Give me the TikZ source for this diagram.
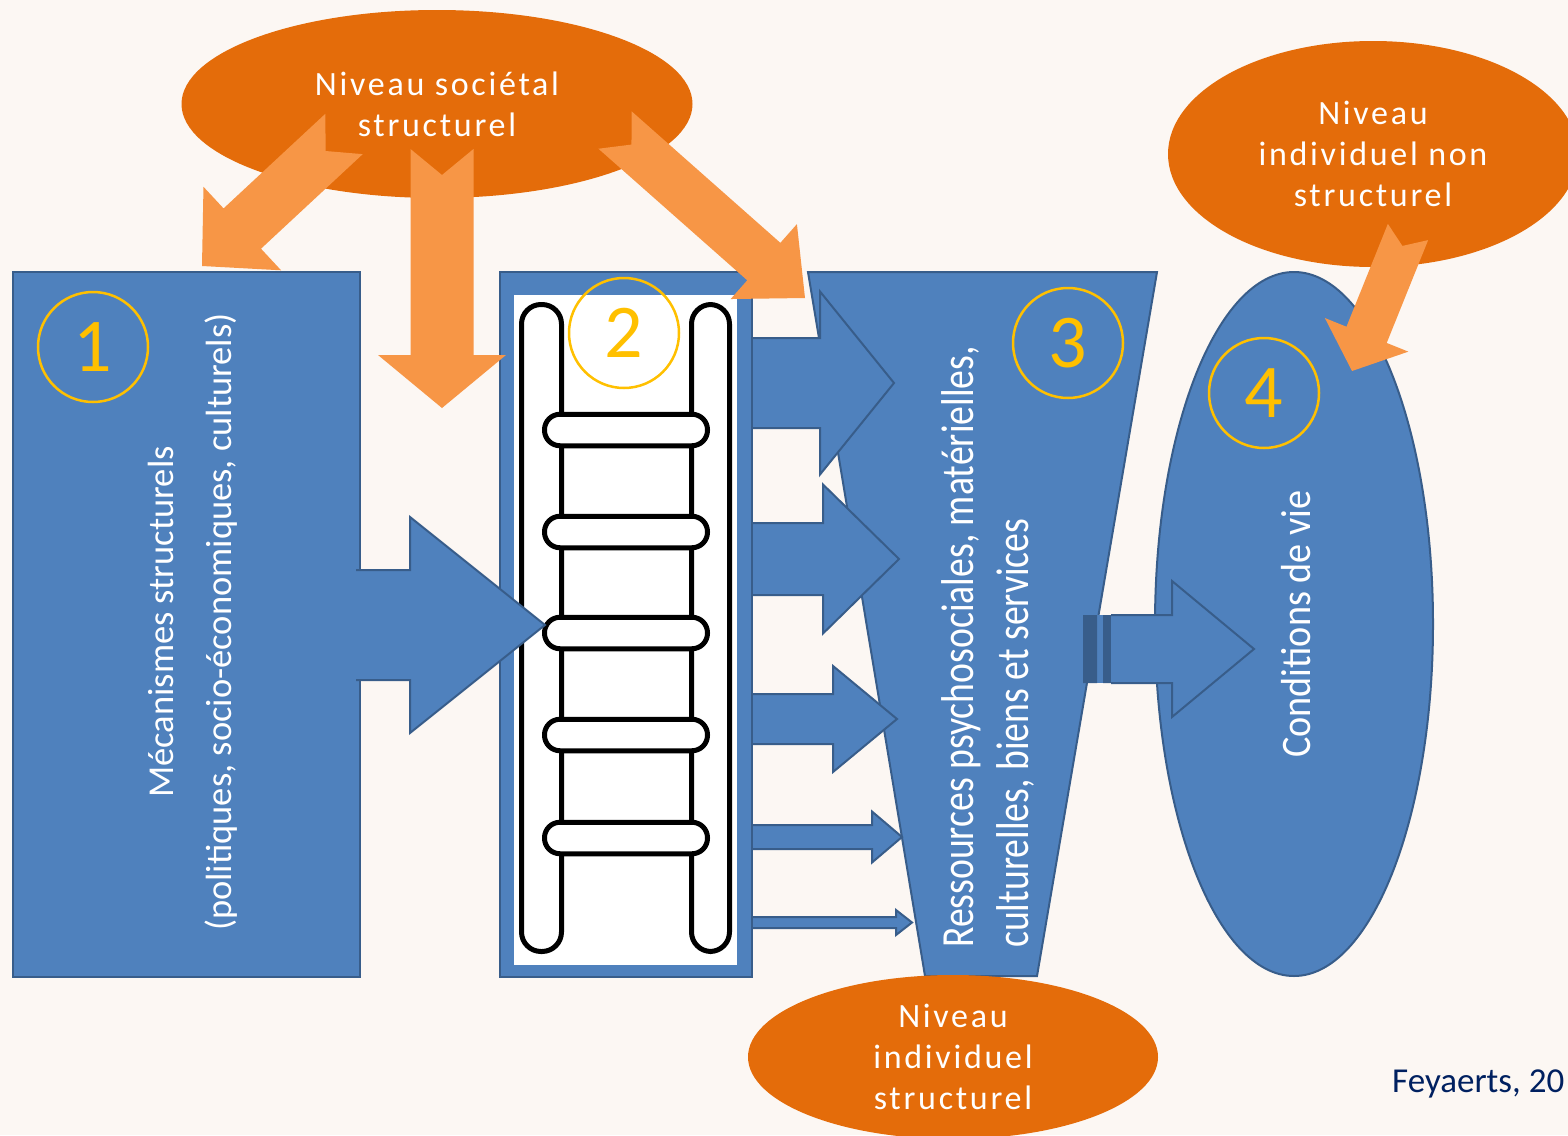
\documentclass[tikz,border=0pt]{standalone}
\usepackage{fontspec}
\setmainfont{Carlito}
\newfontfamily\levelfont{Carlito}[LetterSpace=8]
\newfontfamily\narrowfont{Carlito}[FakeStretch=0.82]
\newfontfamily\condfont{Carlito}[FakeStretch=0.91]
\usetikzlibrary{shapes.geometric,calc,positioning}

\definecolor{fond}{RGB}{252,247,243}
\definecolor{bleu}{RGB}{79,129,189}
\definecolor{bleufonce}{RGB}{56,93,138}
\definecolor{orangefonce}{RGB}{228,108,10}
\definecolor{orangeclair}{RGB}{247,150,70}
\definecolor{jaune}{RGB}{255,192,0}
\definecolor{marine}{RGB}{0,32,96}

\tikzstyle{bluebox}=[draw=bleufonce, fill=bleu, line width=2.5pt]
\tikzstyle{levelell}=[ellipse, fill=orangefonce, text=white, inner sep=0pt, align=center, font=\levelfont\fontsize{34}{41}\selectfont]
\tikzstyle{numcircle}=[circle, draw=jaune, line width=2.5pt, text=jaune, minimum size=110pt, inner sep=0pt, font=\fontsize{76}{76}\selectfont]
\tikzstyle{rail}=[draw=black, fill=white, line width=5pt]
\tikzstyle{vtext}=[text=white, rotate=90, inner sep=0pt]

% tail, tip, shaft half width, head half width, head length
\newcommand{\bluearrow}[5]{%
  \fill[bleu] ($(#1)!#3!90:(#2)$) -- ($(#2)!#5!(#1)!#3!90:(#2)$) -- ($(#2)!#5!(#1)!#4!90:(#2)$) -- (#2)
    -- ($(#2)!#5!(#1)!#4!-90:(#2)$) -- ($(#2)!#5!(#1)!#3!-90:(#2)$) -- ($(#1)!#3!-90:(#2)$) -- cycle;
  \draw[bleufonce, line width=2pt] ($(#1)!#3!90:(#2)$) -- ($(#2)!#5!(#1)!#3!90:(#2)$) -- ($(#2)!#5!(#1)!#4!90:(#2)$) -- (#2)
    -- ($(#2)!#5!(#1)!#4!-90:(#2)$) -- ($(#2)!#5!(#1)!#3!-90:(#2)$) -- ($(#1)!#3!-90:(#2)$);
}
% tail, tip, shaft half width, head half width, head length, notch
\newcommand{\orangearrow}[6]{%
  \fill[orangeclair] ($(#1)!#3!90:(#2)$) -- ($(#2)!#5!(#1)!#3!90:(#2)$) -- ($(#2)!#5!(#1)!#4!90:(#2)$) -- (#2)
    -- ($(#2)!#5!(#1)!#4!-90:(#2)$) -- ($(#2)!#5!(#1)!#3!-90:(#2)$) -- ($(#1)!#3!-90:(#2)$) -- ($(#1)!#6!(#2)$) -- cycle;
}

\begin{document}
\begin{tikzpicture}[x=1pt, y=-1pt]

\fill[fond] (0,0) rectangle (1568,1135);
\useasboundingbox (0,0) rectangle (1568,1135);

\node[bluebox, minimum width=347pt, minimum height=705pt] (meca) at (186.5,624.5) {};
\node[bluebox, minimum width=252pt, minimum height=705pt] (echelle) at (626,624.5) {};
\node[fill=white, minimum width=223pt, minimum height=670pt, inner sep=0pt] (blanc) at (625.5,630) {};

\foreach \x/\wr in {541.5/40, 710.5/38}
  \draw[rail, rounded corners=19.5pt] (\x-\wr/2,304.5) rectangle (\x+\wr/2,951.5);
\foreach \y in {430,532,633,735,838}
  \draw[rail, rounded corners=15.5pt] (544.5,\y-15.75) rectangle (707.5,\y+15.75);

\coordinate (mecaout) at (356,625);
\coordinate (echin) at (545,625);
\bluearrow{mecaout}{echin}{55pt}{108pt}{135pt}

\draw[bluebox, line width=2pt] (808,272) -- (1157,272) -- (1037,976) -- (925,976) -- cycle;

\foreach \yc/\sw/\hw/\hl/\xt [count=\i] in {383/45pt/91.5pt/74pt/894, 559/36pt/74.5pt/76pt/899, 719/25pt/53pt/64pt/897, 837/12pt/25.5pt/30pt/902, 922.5/5.5pt/12.5pt/16pt/912} {
  \coordinate (src\i) at (753,\yc);
  \coordinate (dst\i) at (\xt,\yc);
  \bluearrow{src\i}{dst\i}{\sw}{\hw}{\hl}
}

\node[bluebox, ellipse, line width=2pt, minimum width=278pt, minimum height=704pt, inner sep=0pt] (cond) at (1294,624) {};

\fill[bleu] (1083,615) rectangle (1112,683);
\fill[bleufonce] (1083,615) rectangle (1097,683) (1103,615) rectangle (1112,683);
\coordinate (resout) at (1111,649);
\coordinate (condin) at (1254,649);
\bluearrow{resout}{condin}{34pt}{68pt}{82pt}

\node[numcircle] (n1) at (93,347) {1};
\node[numcircle] (n2) at (624,333) {2};
\node[numcircle] (n3) at (1068,343) {3};
\node[numcircle] (n4) at (1264,393) {4};

\node[vtext, align=center, font=\fontsize{36.5}{58}\selectfont] (mecatext) at (193,622) {Mécanismes structurels\\(politiques, socio-économiques, culturels)};
\node[vtext, align=left, anchor=north west, font=\narrowfont\fontsize{46}{55}\selectfont] (restext) at (941,948) {Ressources psychosociales, matérielles,\\culturelles, biens et services};
\node[vtext, font=\condfont\fontsize{42}{50}\selectfont] (condtext) at (1296,624) {Conditions de vie};

\node[levelell, minimum width=511pt, minimum height=188pt] (soc) at (437,104) {Niveau sociétal\\structurel};
\node[levelell, minimum width=410pt, minimum height=226pt] (indns) at (1373,154) {Niveau\\individuel non\\structurel};
\node[levelell, minimum width=410pt, minimum height=164pt] (indst) at (953,1057) {Niveau\\individuel\\structurel};

\coordinate (soc1) at (344,134);
\coordinate (meca1) at (202,266);
\coordinate (soc2) at (442,149);
\coordinate (ech1) at (442,408);
\coordinate (soc3) at (615,130);
\coordinate (res1) at (805,298);
\coordinate (indns1) at (1408,232);
\coordinate (cond1) at (1352,371);
\orangearrow{soc1}{meca1}{27.5pt}{57pt}{55pt}{25pt}
\orangearrow{soc2}{ech1}{31.5pt}{64pt}{53pt}{26pt}
\orangearrow{soc3}{res1}{25pt}{50pt}{55pt}{22pt}
\orangearrow{indns1}{cond1}{21.7pt}{45pt}{39pt}{15pt}

\node[anchor=base west, inner sep=0pt, text=marine, font=\fontsize{35}{42}\selectfont] (source) at (1392,1092) {Feyaerts, 20};

\end{tikzpicture}
\end{document}
